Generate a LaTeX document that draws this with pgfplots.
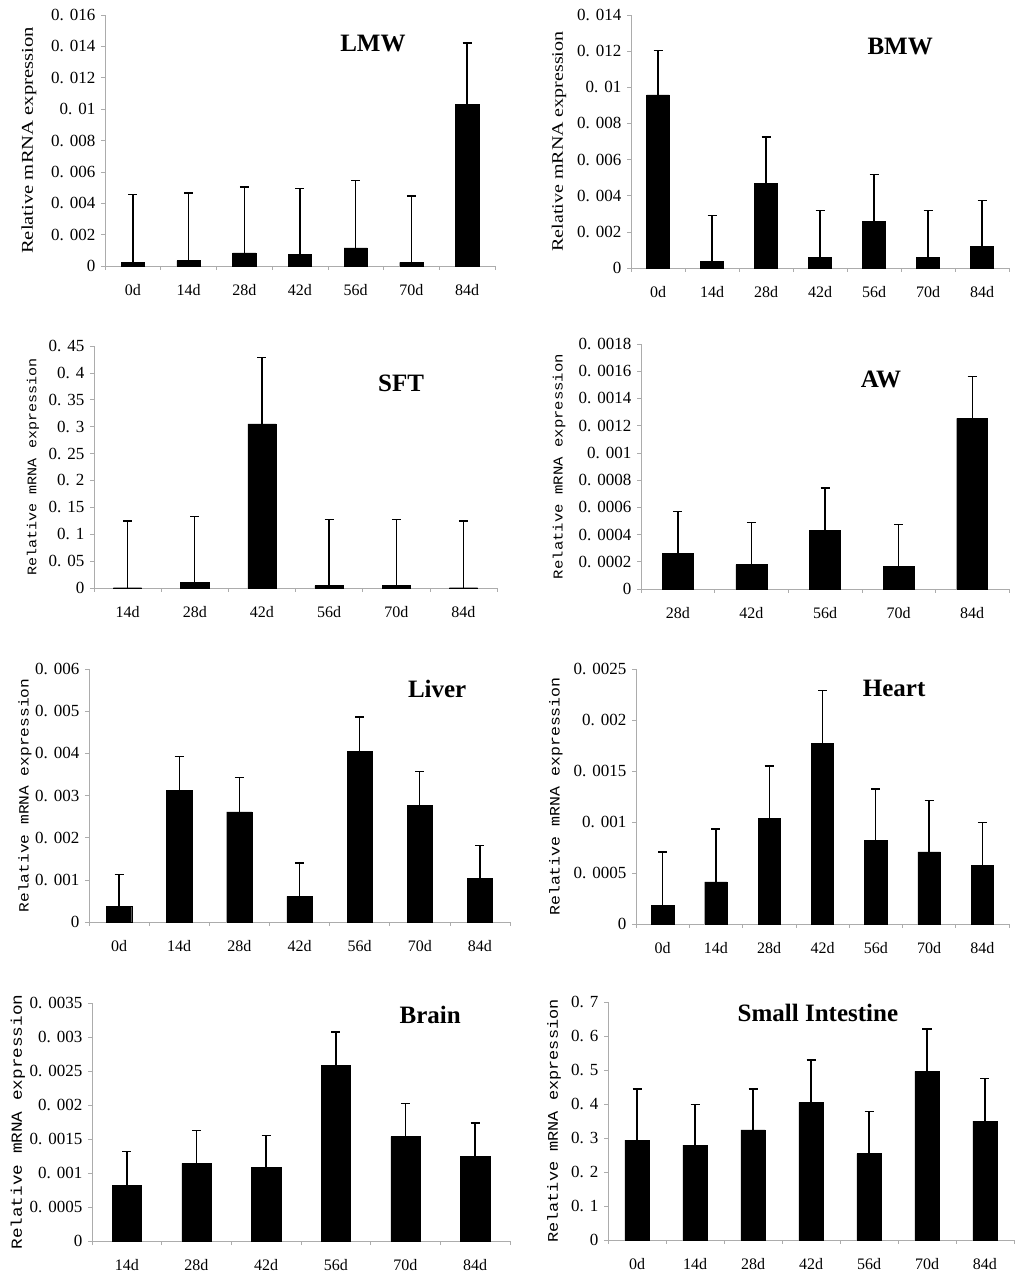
\documentclass[border=0pt]{standalone}
\usepackage{pgfplots}
\pgfplotsset{compat=1.18}
\usepackage{pgfplotstable}
\usepackage{fontspec}
\setmainfont{Liberation Serif}
\newfontfamily\monofam[FakeStretch=1.15]{Liberation Mono}
\newfontfamily\wideserif[FakeStretch=1.25]{Liberation Serif}

\pgfplotstableread{
x y e
0 0.00023 0.00432
1 0.00034 0.00432
2 0.00083 0.00421
3 0.00074 0.00420
4 0.00115 0.00430
5 0.00023 0.00422
6 0.01032 0.00389
}\tabLMW
\pgfplotstableread{
x y e
0 0.00958 0.00247
1 0.00035 0.00254
2 0.00468 0.00256
3 0.00059 0.00258
4 0.00260 0.00258
5 0.00059 0.00258
6 0.00118 0.00256
}\tabBMW
\pgfplotstableread{
x y e
0 0.0005 0.1244
1 0.0105 0.1230
2 0.3054 0.1236
3 0.0043 0.1230
4 0.0043 0.1230
5 0.0005 0.1244
}\tabSFT
\pgfplotstableread{
x y e
0 0.000260 0.000308
1 0.000179 0.000311
2 0.000431 0.000311
3 0.000167 0.000308
4 0.001254 0.000306
}\tabAW
\pgfplotstableread{
x y e
0 0.000371 0.000759
1 0.00312 0.00080
2 0.00261 0.00082
3 0.000608 0.000792
4 0.00404 0.00082
5 0.00277 0.00080
6 0.00103 0.00079
}\tabLiver
\pgfplotstableread{
x y e
0 0.000183 0.000521
1 0.000412 0.000521
2 0.001034 0.000516
3 0.00177 0.000517
4 0.000821 0.000504
5 0.000707 0.000503
6 0.000576 0.000422
}\tabHeart
\pgfplotstableread{
x y e
0 0.000819 0.000495
1 0.001142 0.000485
2 0.001083 0.000471
3 0.002583 0.000490
4 0.001534 0.000491
5 0.001240 0.000495
}\tabBrain
\pgfplotstableread{
x y e
0 0.2936 0.1511
1 0.2788 0.1198
2 0.3240 0.1207
3 0.4045 0.1247
4 0.2543 0.1237
5 0.4958 0.1247
6 0.3495 0.1247
}\tabSI

\pgfplotsset{
  panel/.style={
    scale only axis, anchor=south west,
    axis x line*=bottom, axis y line*=left,
    axis line style={draw=gray!65, line width=0.6pt},
    tick style={draw=gray!65, line width=0.6pt},
    tick align=outside, major tick length=4pt,
    ymin=0, clip=false,
    x tick label as interval,
    yticklabel style={font=\fontsize{17}{20}\selectfont, text=black, xshift=-2pt},
    xticklabel style={font=\fontsize{16}{19}\selectfont, text=black, yshift=-11pt},
    /pgf/number format/assume math mode=true,
    /pgf/number format/fixed,
    /pgf/number format/precision=4,
    /pgf/number format/set decimal separator={.\hspace{0.36em}},
    scaled y ticks=false,
    ybar, bar width=0.42, bar shift=0pt,
  },
  seven/.style={xmin=-0.5, xmax=6.5, xtick={-0.5,0.5,...,6.5},
    xticklabels={0d,14d,28d,42d,56d,70d,84d}},
  bars/.style={fill=black, draw=black,
    error bars/.cd, y dir=plus, y explicit,
    error bar style={line width=1.4pt, black},
    error mark options={rotate=90, line width=1.4pt, black, mark size=4.5pt}},
}
\newcommand\ttl[3]{\node[font=\bfseries\fontsize{25}{30}\selectfont] at (rel axis cs:#1,#2) {#3};}
\newcommand\ylab[3]{\node[rotate=90, anchor=center, font=#2] at ([xshift=#1]rel axis cs:0,0.5) {#3};}

\begin{document}
\begin{tikzpicture}
\useasboundingbox (0,0) rectangle (1024pt,1286pt);

% LMW
\begin{axis}[panel, seven, at={(105pt,1020pt)}, width=390pt, height=251pt,
  ymax=0.016, ytick={0,0.002,0.004,0.006,0.008,0.01,0.012,0.014,0.016}]
\addplot[bars] table[x=x,y=y,y error=e]{\tabLMW};
\ttl{0.687}{0.888}{LMW}
\ylab{-76pt}{\wideserif\fontsize{16.5}{19}\selectfont}{Relative mRNA expression}
\end{axis}

% BMW
\begin{axis}[panel, seven, at={(631pt,1018pt)}, width=378pt, height=253pt,
  ymax=0.014, ytick={0,0.002,0.004,0.006,0.008,0.01,0.012,0.014}]
\addplot[bars] table[x=x,y=y,y error=e]{\tabBMW};
\ttl{0.712}{0.874}{BMW}
\ylab{-72pt}{\wideserif\fontsize{16}{19}\selectfont}{Relative mRNA expression}
\end{axis}

% SFT
\begin{axis}[panel, at={(94pt,698pt)}, width=403pt, height=242pt,
  xmin=-0.5, xmax=5.5, xtick={-0.5,0.5,...,5.5},
  xticklabels={14d,28d,42d,56d,70d,84d},
  ymax=0.45, ytick={0,0.05,0.1,0.15,0.2,0.25,0.3,0.35,0.4,0.45}]
\addplot[bars] table[x=x,y=y,y error=e]{\tabSFT};
\ttl{0.762}{0.847}{SFT}
\ylab{-61pt}{\monofam\fontsize{13.1}{16}\selectfont}{Relative mRNA expression}
\end{axis}

% AW
\begin{axis}[panel, at={(641pt,697pt)}, width=368pt, height=245pt,
  xmin=-0.5, xmax=4.5, xtick={-0.5,0.5,...,4.5},
  xticklabels={28d,42d,56d,70d,84d},
  ymax=0.0018, ytick={0,0.0002,0.0004,0.0006,0.0008,0.001,0.0012,0.0014,0.0016,0.0018}]
\addplot[bars] table[x=x,y=y,y error=e]{\tabAW};
\ttl{0.652}{0.857}{AW}
\ylab{-82pt}{\monofam\fontsize{13.6}{16}\selectfont}{Relative mRNA expression}
\end{axis}

% Liver
\begin{axis}[panel, seven, at={(89pt,364pt)}, width=421pt, height=253pt,
  ymax=0.006, ytick={0,0.001,0.002,0.003,0.004,0.005,0.006}]
\addplot[bars] table[x=x,y=y,y error=e]{\tabLiver};
\ttl{0.827}{0.92}{Liver}
\ylab{-64pt}{\monofam\fontsize{14.1}{16}\selectfont}{Relative mRNA expression}
\end{axis}

% Heart
\begin{axis}[panel, seven, at={(636pt,362pt)}, width=373pt, height=255pt,
  ymax=0.0025, ytick={0,0.0005,0.001,0.0015,0.002,0.0025}]
\addplot[bars] table[x=x,y=y,y error=e]{\tabHeart};
\ttl{0.692}{0.925}{Heart}
\ylab{-80pt}{\monofam\fontsize{14.4}{16}\selectfont}{Relative mRNA expression}
\end{axis}

% Brain
\begin{axis}[panel, at={(92pt,45pt)}, width=418pt, height=238pt,
  xmin=-0.5, xmax=5.5, xtick={-0.5,0.5,...,5.5},
  xticklabels={14d,28d,42d,56d,70d,84d},
  ymax=0.0035, ytick={0,0.0005,0.001,0.0015,0.002,0.0025,0.003,0.0035}]
\addplot[bars] table[x=x,y=y,y error=e]{\tabBrain};
\ttl{0.809}{0.95}{Brain}
\ylab{-74pt}{\monofam\fontsize{15.4}{16}\selectfont}{Relative mRNA expression}
\end{axis}

% Small Intestine
\begin{axis}[panel, seven, at={(608pt,46pt)}, width=406pt, height=238pt,
  ymax=0.7, ytick={0,0.1,0.2,0.3,0.4,0.5,0.6,0.7}]
\addplot[bars] table[x=x,y=y,y error=e]{\tabSI};
\ttl{0.517}{0.954}{Small Intestine}
\ylab{-54pt}{\monofam\fontsize{14.7}{16}\selectfont}{Relative mRNA expression}
\end{axis}
\end{tikzpicture}
\end{document}
